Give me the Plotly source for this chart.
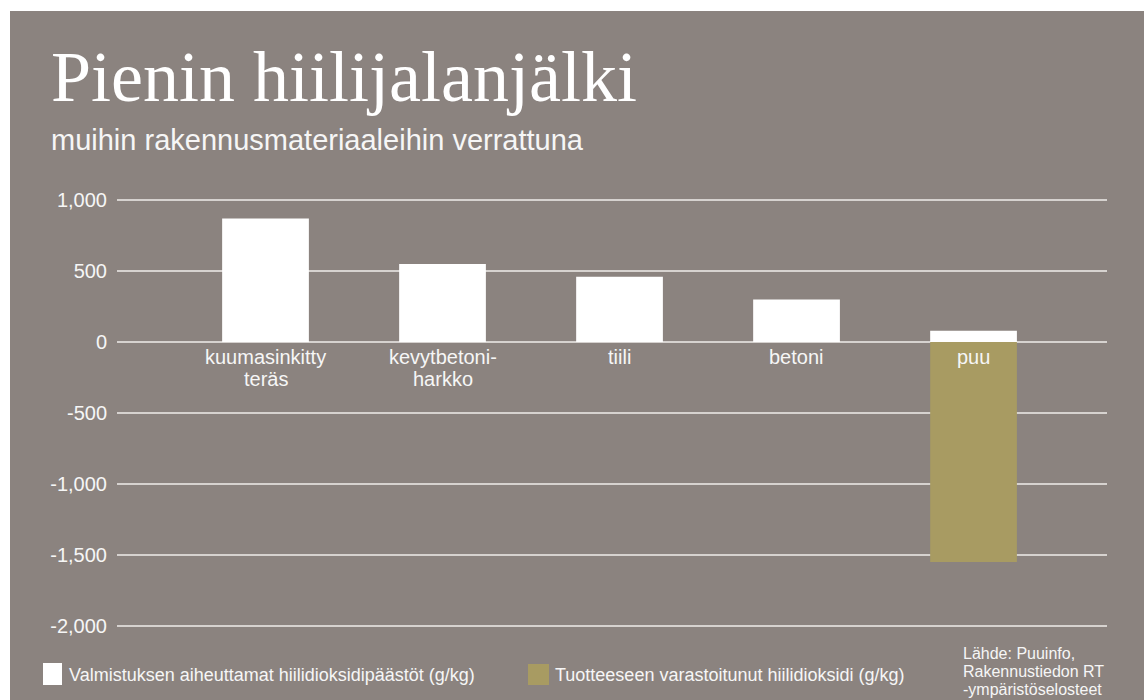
import plotly.graph_objects as go

# ---- data ----
categories = ["kuumasinkitty teräs", "kevytbetoni-harkko", "tiili", "betoni", "puu"]
category_labels = ["kuumasinkitty<br>teräs", "kevytbetoni-<br>harkko", "tiili", "betoni", "puu"]
emissions = [870, 550, 460, 300, 80]            # Valmistuksen aiheuttamat hiilidioksidipäästöt (g/kg)
stored = [None, None, None, None, -1550]         # Tuotteeseen varastoitunut hiilidioksidi (g/kg)
tick_values = [1000, 500, 0, -500, -1000, -1500, -2000]
tick_labels = ["1,000", "500", "0", "-500", "-1,000", "-1,500", "-2,000"]
series_names = ["Valmistuksen aiheuttamat hiilidioksidipäästöt (g/kg)",
                "Tuotteeseen varastoitunut hiilidioksidi (g/kg)"]
source_lines = ["Lähde: Puuinfo,", "Rakennustiedon RT", "-ympäristöselosteet"]

BG = "#8b837f"
GRID = "#d6d2cf"
OLIVE = "#a89b62"
TXT = "#f6f6f6"
SANS = "Liberation Sans, Arial"

W, H = 1144, 700
L, R, T, B = 117, 37, 197, 71
PW, PH = W - L - R, H - T - B
SCALE = 426 / 3000.0  # px per unit
Y_TOP = 1000 + 3 / SCALE
Y_BOT = -2000 - 3 / SCALE


def px(x):
    return (x - L) / PW


def py(y):
    return (H - B - y) / PH


fig = go.Figure()
fig.add_trace(go.Bar(x=categories, y=emissions, name=series_names[0],
                     marker=dict(color="white", line=dict(width=0)), width=0.49))
fig.add_trace(go.Bar(x=categories, y=stored, name=series_names[1],
                     marker=dict(color=OLIVE, line=dict(width=0)), width=0.49))

annotations = []
for c, lab in zip(categories, category_labels):
    for k, line in enumerate(lab.split("<br>")):
        annotations.append(dict(x=c, y=0, xref="x", yref="y", text=line, showarrow=False,
                                yanchor="top", xanchor="center", yshift=-2 - 22 * k,
                                font=dict(family=SANS, size=20, color=TXT)))

# title & subtitle
annotations.append(dict(x=px(49), y=py(35), xref="paper", yref="paper", xanchor="left", yanchor="top",
                        text="Pienin hiilijalanjälki", showarrow=False,
                        font=dict(family="Liberation Serif, Times New Roman", size=72, color="white")))
annotations.append(dict(x=px(49), y=py(122), xref="paper", yref="paper", xanchor="left", yanchor="top",
                        text="muihin rakennusmateriaaleihin verrattuna", showarrow=False,
                        font=dict(family=SANS, size=29, color=TXT)))

# legend
annotations.append(dict(x=px(67), y=py(675), xref="paper", yref="paper", xanchor="left", yanchor="middle",
                        text=series_names[0], showarrow=False,
                        font=dict(family=SANS, size=18, color=TXT)))
annotations.append(dict(x=px(553), y=py(675), xref="paper", yref="paper", xanchor="left", yanchor="middle",
                        text=series_names[1], showarrow=False,
                        font=dict(family=SANS, size=18, color=TXT)))
# source
for k, line in enumerate(source_lines):
    annotations.append(dict(x=px(961), y=py(653 + 18 * k), xref="paper", yref="paper",
                            xanchor="left", yanchor="middle", text=line, showarrow=False,
                            font=dict(family=SANS, size=16, color=TXT)))

shapes = [
    # white frame strips (top & left)
    dict(type="rect", xref="paper", yref="paper", x0=px(-5), x1=px(W + 5), y0=py(11), y1=py(-5),
         fillcolor="white", line=dict(width=0), layer="below"),
    dict(type="rect", xref="paper", yref="paper", x0=px(-5), x1=px(10), y0=py(H + 5), y1=py(-5),
         fillcolor="white", line=dict(width=0), layer="below"),
    # legend swatches
    dict(type="rect", xref="paper", yref="paper", x0=px(43), x1=px(62), y0=py(685), y1=py(663),
         fillcolor="white", line=dict(width=0)),
    dict(type="rect", xref="paper", yref="paper", x0=px(528), x1=px(549), y0=py(685), y1=py(664),
         fillcolor=OLIVE, line=dict(width=0)),
]

fig.update_layout(
    width=W, height=H,
    margin=dict(l=L, r=R, t=T, b=B, pad=0),
    paper_bgcolor=BG, plot_bgcolor=BG,
    barmode="relative",
    showlegend=False,
    annotations=annotations,
    shapes=shapes,
    xaxis=dict(type="category", range=[-0.839, 4.754], showticklabels=False, showgrid=False,
               zeroline=False, showline=False, fixedrange=True),
    yaxis=dict(range=[Y_BOT, Y_TOP], tickmode="array", tickvals=tick_values, ticktext=tick_labels,
               showgrid=True, gridcolor=GRID, gridwidth=2, zeroline=False, showline=False,
               ticks="", ticklabelstandoff=9,
               tickfont=dict(family=SANS, size=20, color=TXT)),
)

fig.write_html("out.html")
